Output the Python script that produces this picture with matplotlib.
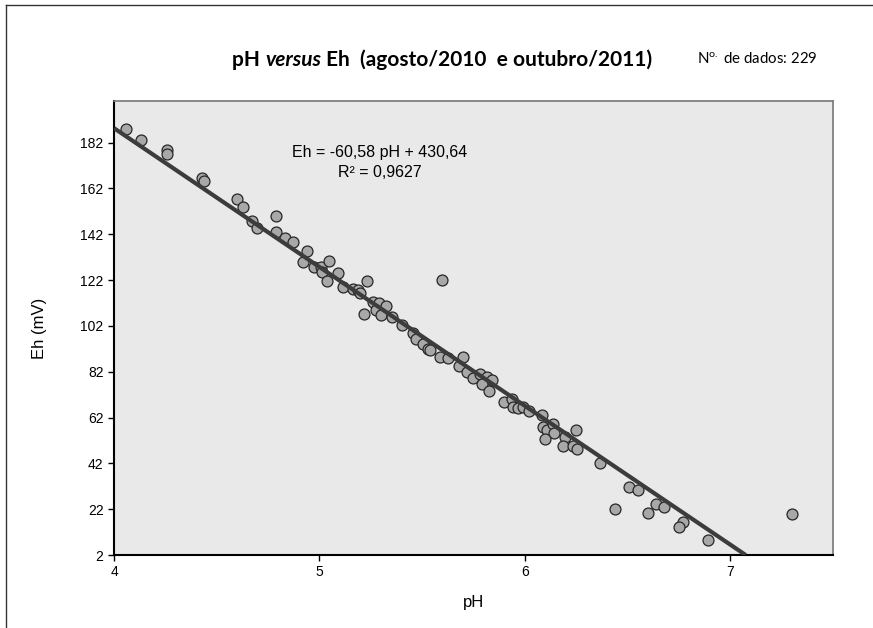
import matplotlib
matplotlib.use("Agg")
import matplotlib.pyplot as plt

# pH / Eh readings
ph = [4.058, 4.130, 4.260, 4.260, 4.430, 4.440, 4.601, 4.630, 4.671, 4.698,
      4.789, 4.789, 4.831, 4.870, 4.940, 4.919, 4.976, 5.007, 5.011, 5.049,
      5.036, 5.093, 5.117, 5.231, 5.166, 5.190, 5.198, 5.599, 5.219, 5.263,
      5.292, 5.323, 5.276, 5.299, 5.353, 5.401, 5.458, 5.471, 5.504, 5.528,
      5.539, 5.588, 5.628, 5.701, 5.682, 5.721, 5.750, 5.783, 5.815, 5.840,
      5.791, 5.828, 5.900, 5.937, 5.942, 5.969, 5.989, 6.020, 6.083, 6.091,
      6.110, 6.137, 6.143, 6.099, 6.197, 6.249, 6.185, 6.237, 6.252, 6.367,
      6.509, 6.551, 6.440, 6.640, 6.680, 6.600, 6.770, 6.749, 6.890, 7.299]
eh = [188.0, 183.2, 178.7, 177.0, 166.7, 165.3, 157.5, 154.1, 147.9, 144.7,
      150.0, 142.8, 140.3, 138.8, 134.5, 129.8, 127.9, 127.9, 125.6, 130.4,
      121.4, 125.3, 119.2, 121.8, 118.1, 117.8, 116.3, 122.1, 107.3, 112.4,
      112.0, 110.9, 109.0, 106.8, 106.1, 102.5, 99.1, 96.2, 94.1, 92.0,
      91.6, 88.6, 88.0, 88.6, 84.3, 81.7, 79.2, 81.0, 79.9, 78.2,
      76.6, 73.7, 68.6, 70.1, 66.6, 66.1, 66.8, 65.0, 63.2, 58.1,
      56.7, 59.2, 55.2, 52.6, 53.7, 56.4, 49.7, 49.4, 48.2, 42.1,
      31.5, 30.5, 21.9, 24.3, 22.9, 20.5, 16.2, 14.3, 8.4, 19.7]

slope = -60.58
intercept = 430.64
r2 = "0,9627"
n_dados = 229

yticks = [2, 22, 42, 62, 82, 102, 122, 142, 162, 182]
xticks = [4, 5, 6, 7]

plt.rcParams['font.family'] = 'Liberation Sans'
plt.rcParams['mathtext.fontset'] = 'custom'
plt.rcParams['mathtext.rm'] = 'Lato'

fig = plt.figure(figsize=(8.73, 6.28), dpi=100)

# outer border (top and left visible)
fig.add_artist(plt.Line2D([0.007, 0.007], [0, 0.992], color='#333333', lw=1))
fig.add_artist(plt.Line2D([0.007, 1], [0.992, 0.992], color='#333333', lw=1))

ax = fig.add_axes([0.1306, 0.1162, 0.8234, 0.7223])
ax.set_facecolor('#e9e9e9')

ax.scatter(ph, eh, s=62, facecolor='#a8a8a8', edgecolor='#262626', linewidth=0.9, zorder=3)

# trendline, stops where it meets the x axis
x_end = (intercept - yticks[0]) / -slope
ax.plot([xticks[0], x_end], [slope * xticks[0] + intercept, slope * x_end + intercept],
        color='#3c3c3c', lw=3, zorder=4, solid_capstyle='butt')

ax.set_xlim(4, 7.5)
ax.set_ylim(2, 200)
ax.set_xticks(xticks)
ax.set_yticks(yticks)
ax.tick_params(direction='out', length=4, width=1, labelsize=10, colors='black')
for s in ['left', 'bottom']:
    ax.spines[s].set_color('black')
    ax.spines[s].set_linewidth(1.5)
for s in ['top', 'right']:
    ax.spines[s].set_color('#777777')
    ax.spines[s].set_linewidth(1.2)

ax.set_xlabel('pH', fontsize=12, labelpad=11)
ax.set_ylabel('Eh (mV)', fontsize=12, labelpad=24)

ax.text(0.370, 0.888, 'Eh = %s pH + %s' % (str(slope).replace('.', ','), str(intercept).replace('.', ',')),
        transform=ax.transAxes, ha='center', va='center', fontsize=11.5)
ax.text(0.370, 0.844, 'R² = ' + r2, transform=ax.transAxes, ha='center', va='center', fontsize=11.5)

# title in pieces so "versus" can be italic
t1 = fig.text(0.266, 0.895, 'pH ', fontsize=15, fontweight='bold', family='Lato', va='baseline')
t2 = ax.annotate('versus', xy=(1, 0), xycoords=t1, fontsize=15, fontweight='bold',
                 style='italic', family='Lato', va='bottom')
t3 = ax.annotate(' Eh  (agosto/2010  e outubro/2011)', xy=(1, 0), xycoords=t2, fontsize=15,
                 fontweight='bold', family='Lato', va='bottom')
fig.text(0.798, 0.898, r'N$^{\mathrm{o.}}$ de dados: %d' % n_dados, fontsize=10.8, family='Lato', va='baseline')

fig.savefig('out.png', dpi=100)
